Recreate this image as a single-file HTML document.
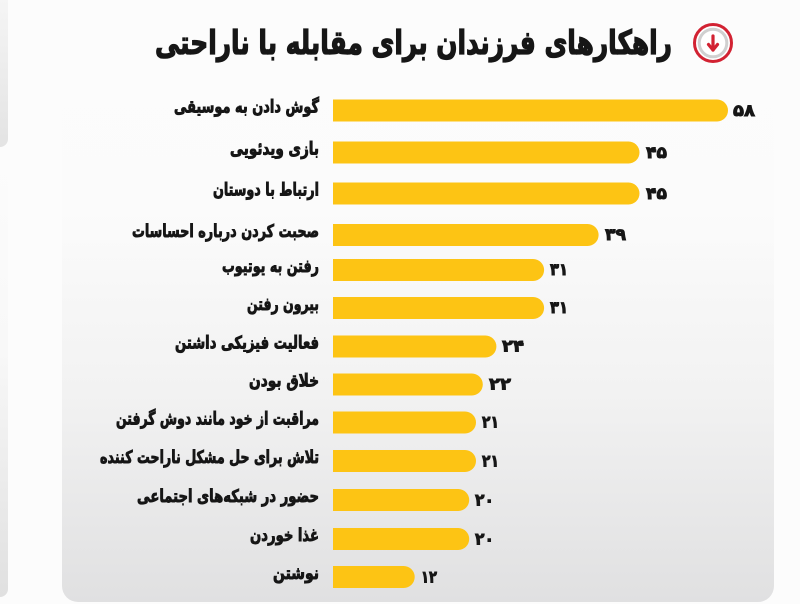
<!DOCTYPE html>
<html><head><meta charset="utf-8">
<style>
html,body{margin:0;padding:0;background:#fcfcfc;}
svg{display:block;}
text{font-family:"DejaVu Sans","Liberation Sans",sans-serif;font-weight:bold;fill:#161616;stroke:#161616;}
</style></head>
<body>
<svg width="800" height="604" viewBox="0 0 800 604" xmlns="http://www.w3.org/2000/svg">
<defs>
<linearGradient id="cg" x1="0" y1="0" x2="0" y2="604" gradientUnits="userSpaceOnUse">
<stop offset="0" stop-color="#fcfcfc"/>
<stop offset="0.35" stop-color="#fbfbfb"/>
<stop offset="0.65" stop-color="#f2f2f2"/>
<stop offset="1" stop-color="#e0e0e1"/>
</linearGradient>
<linearGradient id="lg1" x1="0" y1="0" x2="0" y2="148" gradientUnits="userSpaceOnUse">
<stop offset="0" stop-color="#f5f5f5"/>
<stop offset="1" stop-color="#e3e3e3"/>
</linearGradient>
<linearGradient id="lg2" x1="0" y1="150" x2="0" y2="598" gradientUnits="userSpaceOnUse">
<stop offset="0" stop-color="#fcfcfc"/>
<stop offset="0.45" stop-color="#f8f8f8"/>
<stop offset="1" stop-color="#e0e0e0"/>
</linearGradient>
</defs>
<rect x="0" y="0" width="800" height="604" fill="#fcfcfc"/>
<rect x="-30" y="-30" width="38" height="177" rx="8" fill="url(#lg1)"/>
<rect x="-30" y="152" width="38" height="445" rx="8" fill="url(#lg2)"/>
<rect x="62" y="-60" width="712" height="662" rx="16" fill="url(#cg)"/>

<text x="155" y="54" font-size="33" stroke-width="1.3" textLength="517" lengthAdjust="spacingAndGlyphs">راهکارهای فرزندان برای مقابله با ناراحتی</text>
<circle cx="713" cy="43" r="18.5" fill="#ffffff" stroke="#d22232" stroke-width="3"/>
<circle cx="713" cy="43" r="13.8" fill="#ffffff" stroke="#d0d0d0" stroke-width="3"/>
<line x1="713" y1="36" x2="713" y2="50" stroke="#d22232" stroke-width="3.2" stroke-linecap="round"/>
<polyline points="708.5,44.5 713,50 717.5,44.5" fill="none" stroke="#d22232" stroke-width="3.2" stroke-linecap="round" stroke-linejoin="round"/>

<g fill="#fdc414">
<path d="M333 99.5 H717 A11 11 0 0 1 717 121.5 H333 Z"/>
<path d="M333 141.5 H628.5 A11 11 0 0 1 628.5 163.5 H333 Z"/>
<path d="M333 182.5 H628.5 A11 11 0 0 1 628.5 204.5 H333 Z"/>
<path d="M333 224 H587.6 A11 11 0 0 1 587.6 246 H333 Z"/>
<path d="M333 259 H533.1 A11 11 0 0 1 533.1 281 H333 Z"/>
<path d="M333 297 H533.1 A11 11 0 0 1 533.1 319 H333 Z"/>
<path d="M333 335.5 H485.4 A11 11 0 0 1 485.4 357.5 H333 Z"/>
<path d="M333 373.5 H471.8 A11 11 0 0 1 471.8 395.5 H333 Z"/>
<path d="M333 411.5 H465 A11 11 0 0 1 465 433.5 H333 Z"/>
<path d="M333 450 H465 A11 11 0 0 1 465 472 H333 Z"/>
<path d="M333 489 H458.2 A11 11 0 0 1 458.2 511 H333 Z"/>
<path d="M333 528 H458.2 A11 11 0 0 1 458.2 550 H333 Z"/>
<path d="M333 566 H403.7 A11 11 0 0 1 403.7 588 H333 Z"/>
</g>

<g font-size="17.5" stroke-width="0.9">
<text x="174" y="112.5" textLength="145" lengthAdjust="spacingAndGlyphs">گوش دادن به موسیقی</text>
<text x="230" y="154.5" textLength="89" lengthAdjust="spacingAndGlyphs">بازی ویدئویی</text>
<text x="213" y="195.5" textLength="106" lengthAdjust="spacingAndGlyphs">ارتباط با دوستان</text>
<text x="132" y="237" textLength="187" lengthAdjust="spacingAndGlyphs">صحبت کردن درباره احساسات</text>
<text x="222" y="272" textLength="97" lengthAdjust="spacingAndGlyphs">رفتن به یوتیوب</text>
<text x="247" y="310" textLength="72" lengthAdjust="spacingAndGlyphs">بیرون رفتن</text>
<text x="175" y="348.5" textLength="144" lengthAdjust="spacingAndGlyphs">فعالیت فیزیکی داشتن</text>
<text x="249" y="386.5" textLength="70" lengthAdjust="spacingAndGlyphs">خلاق بودن</text>
<text x="116" y="424.5" textLength="203" lengthAdjust="spacingAndGlyphs">مراقبت از خود مانند دوش گرفتن</text>
<text x="100" y="463" textLength="219" lengthAdjust="spacingAndGlyphs">تلاش برای حل مشکل ناراحت کننده</text>
<text x="137" y="502" textLength="182" lengthAdjust="spacingAndGlyphs">حضور در شبکه‌های اجتماعی</text>
<text x="250" y="541" textLength="69" lengthAdjust="spacingAndGlyphs">غذا خوردن</text>
<text x="273" y="579" textLength="46" lengthAdjust="spacingAndGlyphs">نوشتن</text>
</g>

<g font-size="16.5" stroke-width="0.9">
<text x="733" y="116" textLength="22" lengthAdjust="spacingAndGlyphs">۵۸</text>
<text x="646" y="158" textLength="21" lengthAdjust="spacingAndGlyphs">۴۵</text>
<text x="646" y="199" textLength="21" lengthAdjust="spacingAndGlyphs">۴۵</text>
<text x="605" y="240" textLength="21" lengthAdjust="spacingAndGlyphs">۳۹</text>
<text x="550" y="275" textLength="18" lengthAdjust="spacingAndGlyphs">۳۱</text>
<text x="550" y="313" textLength="18" lengthAdjust="spacingAndGlyphs">۳۱</text>
<text x="502" y="351.5" textLength="22" lengthAdjust="spacingAndGlyphs">۲۴</text>
<text x="489" y="389.5" textLength="22" lengthAdjust="spacingAndGlyphs">۲۲</text>
<text x="482" y="427.5" textLength="17" lengthAdjust="spacingAndGlyphs">۲۱</text>
<text x="482" y="466.5" textLength="17" lengthAdjust="spacingAndGlyphs">۲۱</text>
<text x="475" y="505.5" textLength="19" lengthAdjust="spacingAndGlyphs">۲۰</text>
<text x="475" y="544.5" textLength="19" lengthAdjust="spacingAndGlyphs">۲۰</text>
<text x="421" y="582.5" textLength="16" lengthAdjust="spacingAndGlyphs">۱۲</text>
</g>
</svg>
</body></html>
